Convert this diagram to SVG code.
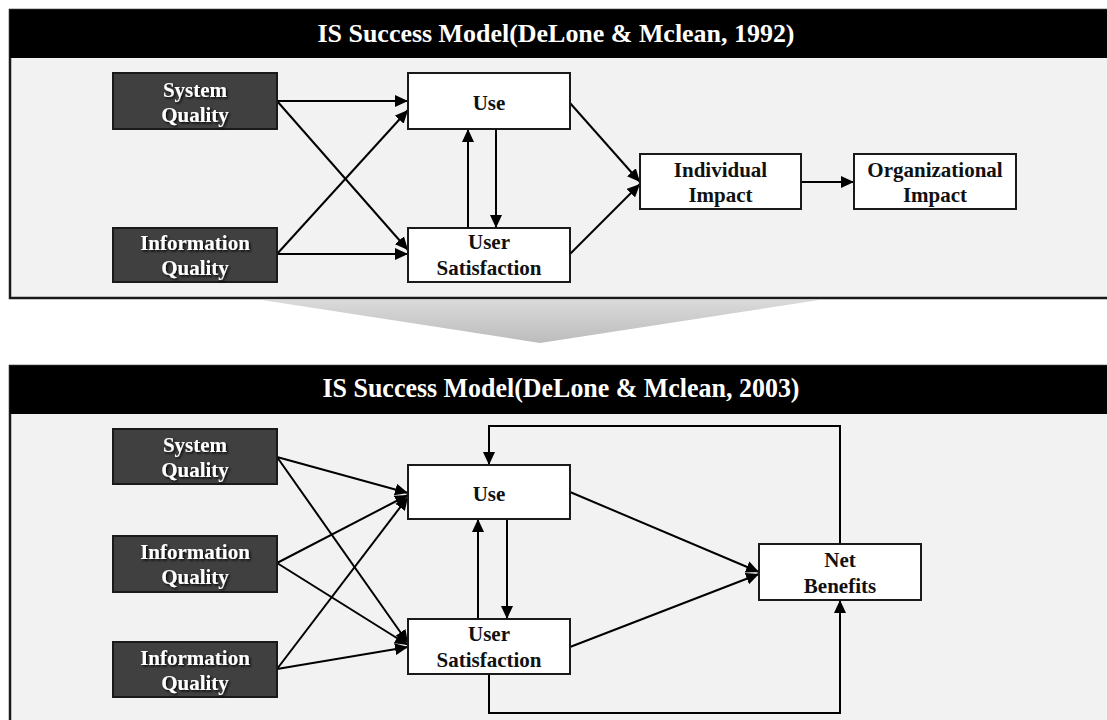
<svg xmlns="http://www.w3.org/2000/svg" width="1107" height="720" viewBox="0 0 1107 720">
<defs>
<marker id="ah" markerUnits="userSpaceOnUse" markerWidth="14" markerHeight="12" refX="13" refY="6" orient="auto">
<path d="M0,0 L13,6 L0,12 z" fill="#000"/>
</marker>
<linearGradient id="tri" x1="0" y1="0" x2="0" y2="1">
<stop offset="0" stop-color="#dadada"/>
<stop offset="1" stop-color="#bcbcbc"/>
</linearGradient>
<filter id="sh" x="-10%" y="-20%" width="130%" height="150%">
<feDropShadow dx="1.5" dy="1.5" stdDeviation="0.8" flood-color="#000" flood-opacity="0.9"/>
</filter>
</defs>
<style>
.panel{fill:#f2f2f2;stroke:#1a1a1a;stroke-width:2.5}
.hdr{fill:#000}
.title{font-family:"Liberation Serif","Times New Roman",serif;font-weight:bold;fill:#fff;text-anchor:middle}
.dark rect{fill:#404040;stroke:#1a1a1a;stroke-width:2}
.dark text{font-family:"Liberation Serif","Times New Roman",serif;font-weight:bold;font-size:21px;fill:#fff;text-anchor:middle;filter:url(#sh)}
.light rect{fill:#fff;stroke:#1a1a1a;stroke-width:2}
.light text{font-family:"Liberation Serif","Times New Roman",serif;font-weight:bold;font-size:21px;fill:#111;text-anchor:middle}
.c path,.c line{stroke:#000;stroke-width:2;fill:none}
.c .a{marker-end:url(#ah)}
</style>
<rect width="1107" height="720" fill="#fff"/>

<!-- top panel -->
<rect class="panel" x="10" y="10" width="1110" height="288"/>
<rect class="hdr" x="10" y="10" width="1110" height="48"/>
<text class="title" x="556" y="42" font-size="26" textLength="477" lengthAdjust="spacingAndGlyphs">IS Success Model(DeLone &amp; Mclean, 1992)</text>

<!-- transition arrow -->
<polygon points="262,300 819,300 540,343" fill="url(#tri)"/>

<!-- bottom panel -->
<rect class="panel" x="10" y="366" width="1110" height="370"/>
<rect class="hdr" x="10" y="366" width="1110" height="48"/>
<text class="title" x="561" y="397" font-size="27" textLength="477" lengthAdjust="spacingAndGlyphs">IS Success Model(DeLone &amp; Mclean, 2003)</text>

<!-- connectors -->
<g id="connectors" class="c">
<line class="a" x1="277" y1="101" x2="408" y2="101"/>
<line class="a" x1="277" y1="101" x2="408" y2="250"/>
<line class="a" x1="277" y1="254" x2="408" y2="110"/>
<line class="a" x1="277" y1="254" x2="408" y2="254"/>
<line class="a" x1="468" y1="228" x2="468" y2="129"/>
<line class="a" x1="496" y1="129" x2="496" y2="228"/>
<line class="a" x1="570" y1="103" x2="640" y2="182"/>
<line class="a" x1="570" y1="254" x2="640" y2="184"/>
<line class="a" x1="801" y1="182" x2="854" y2="182"/>

<line class="a" x1="277" y1="457" x2="408" y2="493"/>
<line class="a" x1="277" y1="457" x2="408" y2="643"/>
<line class="a" x1="277" y1="563" x2="408" y2="495"/>
<line class="a" x1="277" y1="563" x2="408" y2="645"/>
<line class="a" x1="277" y1="669" x2="408" y2="497"/>
<line class="a" x1="277" y1="669" x2="408" y2="647"/>
<line class="a" x1="478" y1="619" x2="478" y2="519"/>
<line class="a" x1="507" y1="519" x2="507" y2="619"/>
<line class="a" x1="570" y1="492" x2="759" y2="572"/>
<line class="a" x1="570" y1="647" x2="759" y2="574"/>
<path class="a" d="M840,544 V426 H489 V465"/>
<path class="a" d="M489,674 V713 H840 V600"/>
</g>

<!-- top nodes -->
<g id="sq1" class="dark"><rect x="113" y="73" width="164" height="56"/><text x="195" y="97">System</text><text x="195" y="122">Quality</text></g>
<g id="iq1" class="dark"><rect x="113" y="228" width="164" height="54"/><text x="195" y="250">Information</text><text x="195" y="275">Quality</text></g>
<g id="use1" class="light"><rect x="408" y="73" width="162" height="56"/><text x="489" y="110">Use</text></g>
<g id="us1" class="light"><rect x="408" y="228" width="162" height="54"/><text x="489" y="249">User</text><text x="489" y="275">Satisfaction</text></g>
<g id="ii1" class="light"><rect x="640" y="154" width="161" height="55"/><text x="720.5" y="177">Individual</text><text x="720.5" y="202">Impact</text></g>
<g id="oi1" class="light"><rect x="854" y="154" width="162" height="55"/><text x="935" y="177">Organizational</text><text x="935" y="202">Impact</text></g>

<!-- bottom nodes -->
<g id="sq2" class="dark"><rect x="113" y="429" width="164" height="55"/><text x="195" y="452">System</text><text x="195" y="477">Quality</text></g>
<g id="iq2a" class="dark"><rect x="113" y="536" width="164" height="56"/><text x="195" y="559">Information</text><text x="195" y="584">Quality</text></g>
<g id="iq2b" class="dark"><rect x="113" y="642" width="164" height="55"/><text x="195" y="665">Information</text><text x="195" y="690">Quality</text></g>
<g id="use2" class="light"><rect x="408" y="465" width="162" height="54"/><text x="489" y="501">Use</text></g>
<g id="us2" class="light"><rect x="408" y="619" width="162" height="55"/><text x="489" y="641">User</text><text x="489" y="667">Satisfaction</text></g>
<g id="nb2" class="light"><rect x="759" y="544" width="162" height="56"/><text x="840" y="567">Net</text><text x="840" y="593">Benefits</text></g>
</svg>
